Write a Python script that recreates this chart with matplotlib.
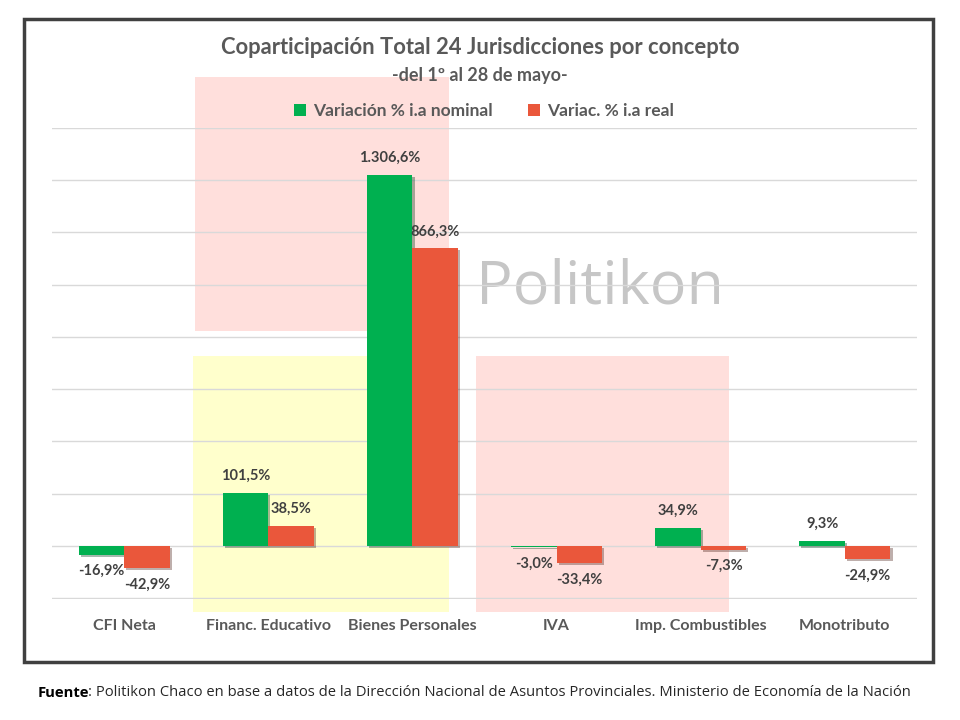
import numpy as np
import matplotlib
matplotlib.use("Agg")
import matplotlib.pyplot as plt
from matplotlib.patches import Rectangle
from matplotlib import patheffects as pe

# =========================
# DATA
# =========================
categories = ["CFI Neta", "Financ. Educativo", "Bienes Personales",
              "IVA", "Imp. Combustibles", "Monotributo"]
nominal = [-16.9, 101.5, 1306.6, -3.0, 34.9, 9.3]
real = [-42.9, 38.5, 866.3, -33.4, -7.3, -24.9]
series_names = ["Variación % i.a nominal", "Variac. % i.a real"]

GREEN = "#00B050"
RED = "#EA573B"
TEXT = "#404040"
GREY = "#595959"

# value axis is compressed above the knee (big values would flatten the rest)
KNEE = 430.0
SLOPE = 0.32


def forward(v):
    v = np.asarray(v, dtype=float)
    return np.where(v <= KNEE, v, KNEE + SLOPE * (v - KNEE))


def inverse(u):
    u = np.asarray(u, dtype=float)
    return np.where(u <= KNEE, u, KNEE + (u - KNEE) / SLOPE)


def fmt(v):
    s = f"{v:,.1f}".replace(",", "X").replace(".", ",").replace("X", ".")
    return s + "%"


plt.rcParams["font.family"] = ["Lato", "DejaVu Sans"]

fig = plt.figure(figsize=(9.6, 7.2), dpi=100)
W, H = 960, 720


def px_rect(x0, y0, x1, y1, **kw):
    # rectangle in figure pixels (top-left origin)
    return Rectangle((x0 / W, 1 - y1 / H), (x1 - x0) / W, (y1 - y0) / H,
                     transform=fig.transFigure, **kw)


# background highlight boxes
fig.patches.append(px_rect(195, 77, 449, 331, facecolor="#FFDFDC", edgecolor="none", zorder=-2))
fig.patches.append(px_rect(193, 356, 449, 612, facecolor="#FFFFCC", edgecolor="none", zorder=-2))
fig.patches.append(px_rect(476, 356, 729, 612, facecolor="#FFDFDC", edgecolor="none", zorder=-2))
# outer frame
fig.patches.append(px_rect(24, 19, 933, 662, facecolor="none", edgecolor="#404040",
                           linewidth=2.5, zorder=5))

# watermark
fig.text(600 / W, 1 - 287 / H, "Politikon", fontsize=44, color="#C6C6C6",
         ha="center", va="center", zorder=-1, family=["Open Sans", "DejaVu Sans"])

ax = fig.add_axes([52 / W, 1 - 598.5 / H, (917 - 52) / W, (598.5 - 127.5) / H], zorder=2)
ax.set_facecolor("none")
ax.set_yscale("function", functions=(forward, inverse))

x = np.arange(len(categories))
w = 0.316
b1 = ax.bar(x - w / 2, nominal, w, color=GREEN, label=series_names[0], zorder=3)
b2 = ax.bar(x + w / 2, real, w, color=RED, label=series_names[1], zorder=3)

for xs, vals in ((x - w / 2, nominal), (x + w / 2, real)):
    for xi, v in zip(xs, vals):
        off = 12 if v >= 0 else -12
        ax.annotate(fmt(v), (xi, v), xytext=(0, off), textcoords="offset points",
                    ha="center", va="center", fontsize=10.5, fontweight="bold",
                    color=TEXT, zorder=4)

ax.set_xlim(-0.5, len(categories) - 0.5)
ax.set_ylim(inverse(-101), inverse(801))
ax.set_yticks(inverse(np.arange(-100, 801, 100)))
ax.yaxis.grid(True, color="#D9D9D9", linewidth=1)
ax.set_axisbelow(True)
ax.tick_params(axis="y", length=0, labelleft=False)
ax.tick_params(axis="x", length=0, pad=15)
ax.set_xticks(x)
ax.set_xticklabels(categories, fontsize=11.5, fontweight="bold", color=GREY)
for s in ax.spines.values():
    s.set_visible(False)

fig.text(0.5, 1 - 48 / H, "Coparticipación Total 24 Jurisdicciones por concepto",
         ha="center", va="center", fontsize=15.8, fontweight="bold", color=GREY)
fig.text(0.5, 1 - 75 / H, "-del 1º al 28 de mayo-", ha="center", va="center",
         fontsize=13, fontweight="bold", color=GREY)

fig.legend(loc="center", bbox_to_anchor=(484 / W, 1 - 111 / H), ncol=2, frameon=False,
           prop={"size": 12.5, "weight": "bold"}, labelcolor=GREY,
           handlelength=0.7, handleheight=0.7, handletextpad=0.4, columnspacing=2.0)

# drop shadow on the bars only (after the legend so handles stay flat)
shadow = [pe.SimplePatchShadow(offset=(1.5, -1.5), alpha=0.35), pe.Normal()]
for b in list(b1) + list(b2):
    b.set_path_effects(shadow)

t = fig.text(38 / W, 1 - 693 / H, "Fuente", ha="left", va="center",
             fontsize=10.6, fontweight="bold", color="black", family=["Open Sans", "DejaVu Sans"])
ax.annotate(": Politikon Chaco en base a datos de la Dirección Nacional de Asuntos "
            "Provinciales. Ministerio de Economía de la Nación",
            xy=(1, 0), xycoords=t, xytext=(-0.8, 0), textcoords="offset points",
            va="bottom", ha="left", fontsize=10.6,
            color="#262626", annotation_clip=False, family=["Open Sans", "DejaVu Sans"])

fig.savefig("out.png", dpi=100, facecolor="white")
